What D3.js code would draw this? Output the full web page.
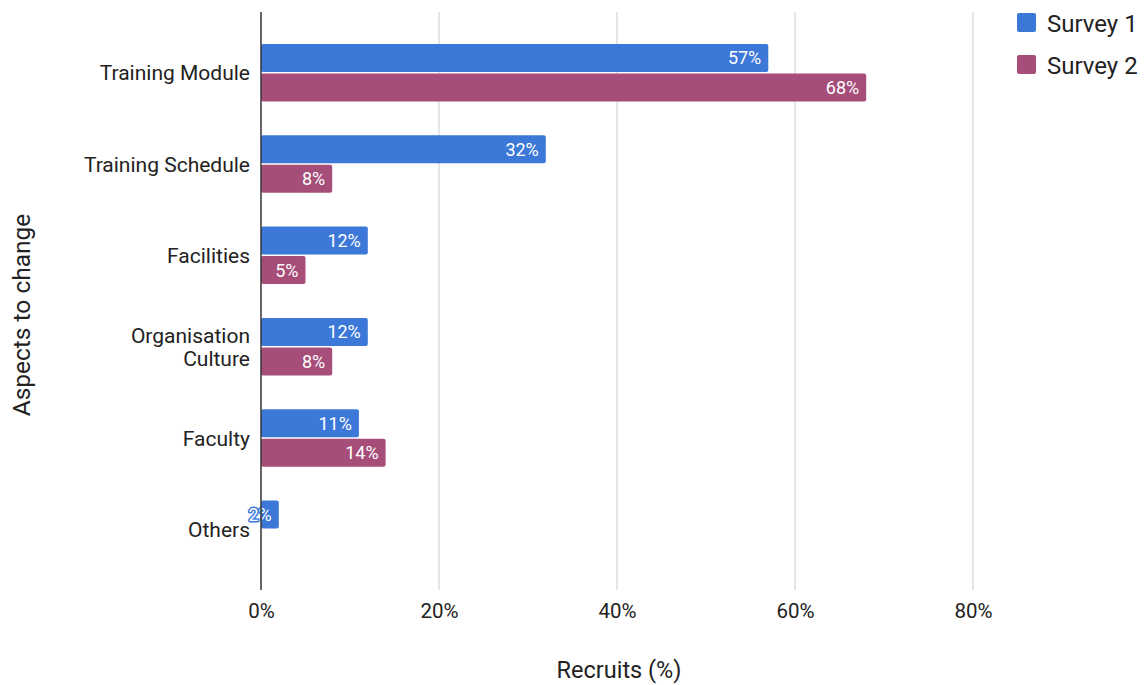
<!DOCTYPE html>
<html>
<head>
<meta charset="utf-8">
<script src="https://cdn.jsdelivr.net/npm/d3@7"></script>
<style>
  html, body { margin: 0; padding: 0; background: #fff; }
  svg { display: block; font-family: Roboto, "Open Sans", sans-serif; }
</style>
</head>
<body>
<svg id="chart" width="1148" height="685"></svg>
<script>
// Aspects respondents would change, percentage of recruits per survey
const categories = ["Training Module", "Training Schedule", "Facilities", "Organisation Culture", "Faculty", "Others"];
const seriesNames = ["Survey 1", "Survey 2"];
const survey1 = [57, 32, 12, 12, 11, 2];
const survey2 = [68, 8, 5, 8, 14, null];
const xTicks = [0, 20, 40, 60, 80];
const colors = ["#3c78d8", "#a64d79"];

const svg = d3.select("#chart");
const plot = { left: 261, right: 973, top: 12, bottom: 590 };

const x = d3.scaleLinear().domain([0, 80]).range([plot.left, plot.right]);
const y = d3.scaleBand().domain(categories).range([plot.top, plot.bottom]).paddingInner(0.37).paddingOuter(0.35);
const ySub = d3.scaleBand().domain(seriesNames).range([0, y.bandwidth()]).paddingInner(0.05);

// Vertical grid lines
svg.append("g").selectAll("line").data(xTicks.filter(t => t > 0)).join("line")
  .attr("x1", d => x(d)).attr("x2", d => x(d))
  .attr("y1", plot.top).attr("y2", plot.bottom)
  .attr("stroke", "#cccccc").attr("stroke-width", 1);

// Tick labels along the bottom
const xAxis = d3.axisBottom(x).tickValues(xTicks).tickFormat(d => d + "%").tickSize(0).tickPadding(13);
const gx = svg.append("g").attr("transform", `translate(0,${plot.bottom})`).call(xAxis);
gx.select(".domain").remove();
gx.selectAll("text").attr("font-size", 20.5).attr("fill", "#222").attr("font-family", "Roboto, sans-serif");

// Bars
const rows = categories.map((c, i) => ({ cat: c, vals: [survey1[i], survey2[i]] }));
const groups = svg.append("g").selectAll("g").data(rows).join("g")
  .attr("transform", d => `translate(0,${y(d.cat)})`);

const barData = d => d.vals.map((v, j) => ({ v, j, name: seriesNames[j] })).filter(e => e.v != null);

groups.selectAll("rect").data(barData).join("rect")
  .attr("x", x(0))
  .attr("y", e => ySub(e.name))
  .attr("width", e => x(e.v) - x(0))
  .attr("height", ySub.bandwidth())
  .attr("rx", 2)
  .attr("fill", e => colors[e.j]);

// Value labels at the end of each bar
groups.selectAll("text").data(barData).join("text")
  .attr("x", e => x(e.v) - 7)
  .attr("y", e => ySub(e.name) + ySub.bandwidth() / 2)
  .attr("dy", "0.36em")
  .attr("text-anchor", "end")
  .attr("font-size", 18)
  .attr("fill", "#fff")
  .attr("stroke", e => colors[e.j])
  .attr("stroke-width", 3)
  .attr("stroke-linejoin", "round")
  .attr("paint-order", "stroke")
  .text(e => e.v + "%");

// Baseline axis
svg.append("line")
  .attr("x1", x(0)).attr("x2", x(0))
  .attr("y1", plot.top).attr("y2", plot.bottom)
  .attr("stroke", "#333").attr("stroke-width", 1.5);

// Category labels (wrapped where too long)
const wrapped = { "Organisation Culture": ["Organisation", "Culture"] };
const catG = svg.append("g").selectAll("text").data(categories).join("text")
  .attr("text-anchor", "end")
  .attr("font-size", 21)
  .attr("fill", "#222")
  .attr("x", 250)
  .attr("y", d => y(d) + y.bandwidth() / 2);
catG.each(function (d) {
  const lines = wrapped[d] || [d];
  const t = d3.select(this);
  lines.forEach((ln, k) => {
    t.append("tspan").attr("x", 250)
      .attr("dy", k === 0 ? `${0.36 - (lines.length - 1) * 0.55}em` : "1.1em")
      .text(ln);
  });
});

// Axis titles
svg.append("text")
  .attr("x", 619).attr("y", 678)
  .attr("text-anchor", "middle").attr("font-size", 23.5).attr("fill", "#222")
  .text("Recruits (%)");
svg.append("text")
  .attr("transform", `translate(30,315) rotate(-90)`)
  .attr("text-anchor", "middle").attr("font-size", 24.5).attr("fill", "#222")
  .text("Aspects to change");

// Legend
const leg = svg.append("g").attr("transform", "translate(1017,13)");
const li = leg.selectAll("g").data(seriesNames).join("g")
  .attr("transform", (d, i) => `translate(0,${i * 42})`);
li.append("rect").attr("width", 19).attr("height", 19).attr("rx", 2)
  .attr("fill", (d, i) => colors[i]);
li.append("text").attr("x", 30).attr("y", 19)
  .attr("font-size", 24).attr("fill", "#222").text(d => d);
</script>
</body>
</html>
